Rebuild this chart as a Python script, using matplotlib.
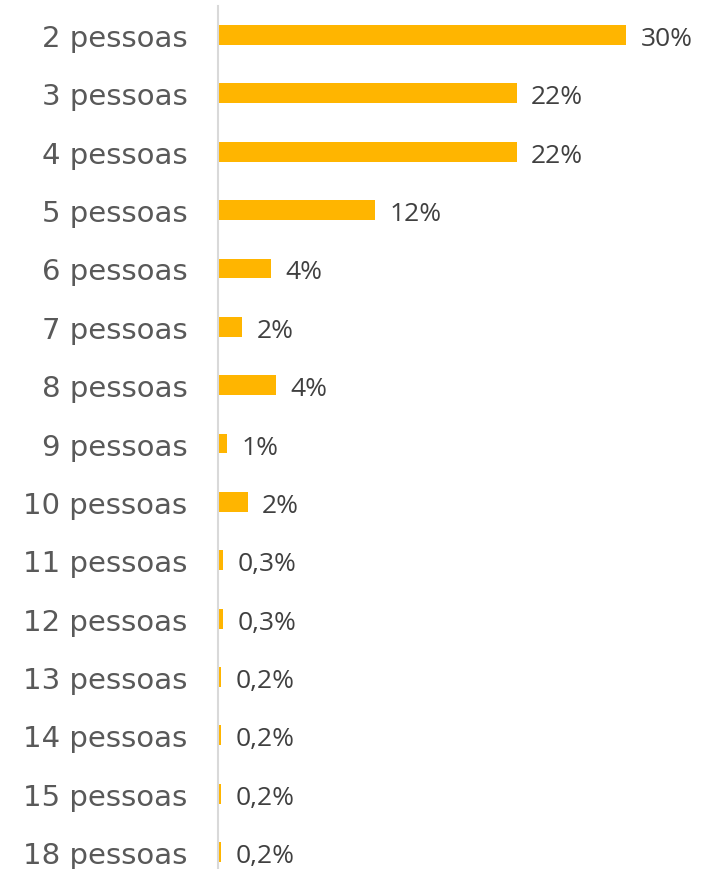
import matplotlib

matplotlib.use("Agg")
from matplotlib import pyplot as plt

categories = [
    "2 pessoas", "3 pessoas", "4 pessoas", "5 pessoas", "6 pessoas",
    "7 pessoas", "8 pessoas", "9 pessoas", "10 pessoas", "11 pessoas",
    "12 pessoas", "13 pessoas", "14 pessoas", "15 pessoas", "18 pessoas",
]
# bar lengths (percent)
values = [30.0, 21.9, 21.9, 11.5, 3.8, 1.7, 4.2, 0.6, 2.1, 0.3, 0.3, 0.15, 0.15, 0.15, 0.15]
value_labels = ["30%", "22%", "22%", "12%", "4%", "2%", "4%", "1%", "2%",
                "0,3%", "0,3%", "0,2%", "0,2%", "0,2%", "0,2%"]

BAR_COLOR = "#FFB500"
W, H = 705, 870

fig = plt.figure(figsize=(W / 100, H / 100), dpi=100)
ax = fig.add_axes([218 / W, 0, (W - 218) / W, (H - 7) / H])

pos = list(range(len(categories)))
ax.barh(pos, values, height=0.34, color=BAR_COLOR, left=0.1)

for p, v, lab in zip(pos, values, value_labels):
    ax.text(v + 1.15, p + 0.06, lab, va="center", ha="left",
            fontsize=19, color="#404040", family="Open Sans")

ax.set_yticks(pos)
ax.set_yticklabels(categories, fontsize=21, color="#595959", family="DejaVu Sans")
ax.tick_params(axis="y", length=0, pad=22)
ax.set_xticks([])
ax.set_xlim(0, (W - 218) / 13.57)
ax.set_ylim(14.29, -0.497)

for side in ["top", "right", "bottom"]:
    ax.spines[side].set_visible(False)
ax.spines["left"].set_color("#D9D9D9")
ax.spines["left"].set_linewidth(1.5)

fig.savefig("out.png", dpi=100)
